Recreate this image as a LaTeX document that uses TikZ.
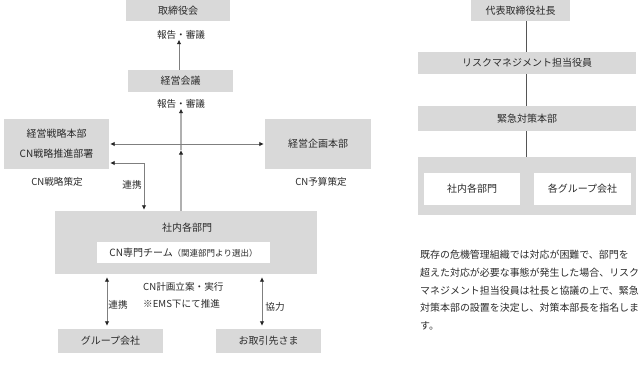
\documentclass[tikz,border=0pt]{standalone}
\usepackage{fontspec}
\setmainfont{Noto Sans CJK JP}
\usetikzlibrary{arrows.meta,calc}
\definecolor{boxgray}{HTML}{D9D9D9}
\definecolor{txt}{HTML}{2A2A2A}
\definecolor{ln}{HTML}{7F7F7F}
\definecolor{lnmain}{HTML}{B0B0B0}
\definecolor{lnr}{HTML}{555555}
\begin{document}
\begin{tikzpicture}[x=1pt,y=-1pt,
  every node/.style={text=txt, font=\fontsize{10}{12}\selectfont},
  gbox/.style={fill=boxgray, draw=none, inner sep=0pt},
  wbox/.style={fill=white, draw=none, inner sep=0pt},
  lbl/.style={font=\fontsize{9.6}{11}\selectfont, inner sep=1pt},
  tip/.style={-{Latex[length=4.5pt,width=4.5pt,color=black!85]}},
  dtip/.style={{Latex[length=4.5pt,width=4.5pt,color=black!85]}-{Latex[length=4.5pt,width=4.5pt,color=black!85]}},
  thin line/.style={draw=ln, line width=0.8pt},
  main line/.style={draw=lnmain, line width=1.5pt},
  rline/.style={draw=lnr, line width=0.9pt},
  para/.style={anchor=west, inner sep=0pt, font=\fontsize{9.95}{12}\selectfont}
]
\useasboundingbox (0,0) rectangle (643,378);

% ---------- left diagram ----------
\node[gbox, minimum width=104pt, minimum height=21pt] (bod) at (178,10.5) {取締役会};
\node[lbl] (rep1) at (181,35) {報告・審議};
\node[gbox, minimum width=105pt, minimum height=22pt] (mtg) at (180.5,81) {経営会議};
\node[lbl] (rep2) at (181,104) {報告・審議};

\node[gbox, minimum width=105pt, minimum height=50pt, align=center,
      font=\fontsize{10}{20}\selectfont] (strat) at (56.5,144) {経営戦略本部\\CN戦略推進部署};
\node[gbox, minimum width=106pt, minimum height=50pt] (plan) at (318,144) {経営企画本部};
\node[lbl] (stratlbl) at (57,182) {CN戦略策定};
\node[lbl] (planlbl) at (321,182) {CN予算策定};

\node[gbox, minimum width=262pt, minimum height=63pt] (dept) at (186,242.5) {};
\node[inner sep=0pt] (depttitle) at (187,228) {社内各部門};
\node[wbox, minimum width=173pt, minimum height=21pt] (team) at (183.5,252.5)
  {CN専門チーム{\fontsize{8.5}{9}\selectfont（関連部門より選出）}};

\node[lbl, anchor=west] (exec) at (142,287) {CN計画立案・実行};
\node[lbl, anchor=west] (ems) at (142,304) {※EMS下にて推進};

\node[gbox, minimum width=105pt, minimum height=24pt] (group) at (110.5,341) {グループ会社};
\node[gbox, minimum width=105pt, minimum height=24pt] (client) at (268.5,341) {お取引先さま};

\node[lbl] (coop1) at (132,185) {連携};
\node[lbl] (coop2) at (118,305) {連携};
\node[lbl] (coop3) at (275,307) {協力};

% helper coordinates
\coordinate (ax) at (179,0);
\coordinate (cx) at (181,0);
\coordinate (my) at (0,150);
\coordinate (lx) at (144,0);
\coordinate (ly) at (0,163);
\coordinate (gx) at (107,0);
\coordinate (kx) at (262,0);

% connectors
\draw[thin line, tip] (mtg.north -| ax) -- ([yshift=1pt]rep1.south -| ax);
\draw[main line, tip] (dept.north -| cx) -- (my -| cx);
\draw[main line, tip] (my -| cx) -- ([yshift=1pt]rep2.south -| cx);
\draw[thin line, dtip] ([xshift=1pt]strat.east) -- ([xshift=-1pt]plan.west);
\draw[thin line, dtip] ([yshift=1pt]dept.north -| lx) |- ([xshift=1pt]strat.east |- ly);
\draw[thin line, dtip] ([yshift=-3pt]dept.south -| gx) -- ([yshift=3pt]group.north -| gx);
\draw[thin line, dtip] ([yshift=-3pt]dept.south -| kx) -- ([yshift=3pt]client.north -| kx);

% ---------- right diagram ----------
\node[gbox, minimum width=99pt, minimum height=21pt] (pres) at (520.5,10.5) {代表取締役社長};
\node[gbox, minimum width=218pt, minimum height=22pt] (risk) at (527,63) {リスクマネジメント担当役員};
\node[gbox, minimum width=218pt, minimum height=25pt] (emerg) at (527,118.5) {緊急対策本部};
\node[gbox, minimum width=218pt, minimum height=58pt] (cont) at (527,186) {};
\node[wbox, minimum width=96pt, minimum height=32pt] (in1) at (472,189) {社内各部門};
\node[wbox, minimum width=97pt, minimum height=32pt] (in2) at (582.5,189) {各グループ会社};

\coordinate (rx) at (526,0);
\draw[rline] (pres.south -| rx) -- (risk.north -| rx);
\draw[rline] (risk.south -| rx) -- (emerg.north -| rx);
\draw[rline] (emerg.south -| rx) -- (cont.north -| rx);

\node[para] (p1) at (420,255) {既存の危機管理組織では対応が困難で、部門を};
\node[para] (p2) at (420,273) {超えた対応が必要な事態が発生した場合、リスク};
\node[para] (p3) at (420,290.5) {マネジメント担当役員は社長と協議の上で、緊急};
\node[para] (p4) at (420,308) {対策本部の設置を決定し、対策本部長を指名しま};
\node[para] (p5) at (420,326) {す。};
\end{tikzpicture}
\end{document}
